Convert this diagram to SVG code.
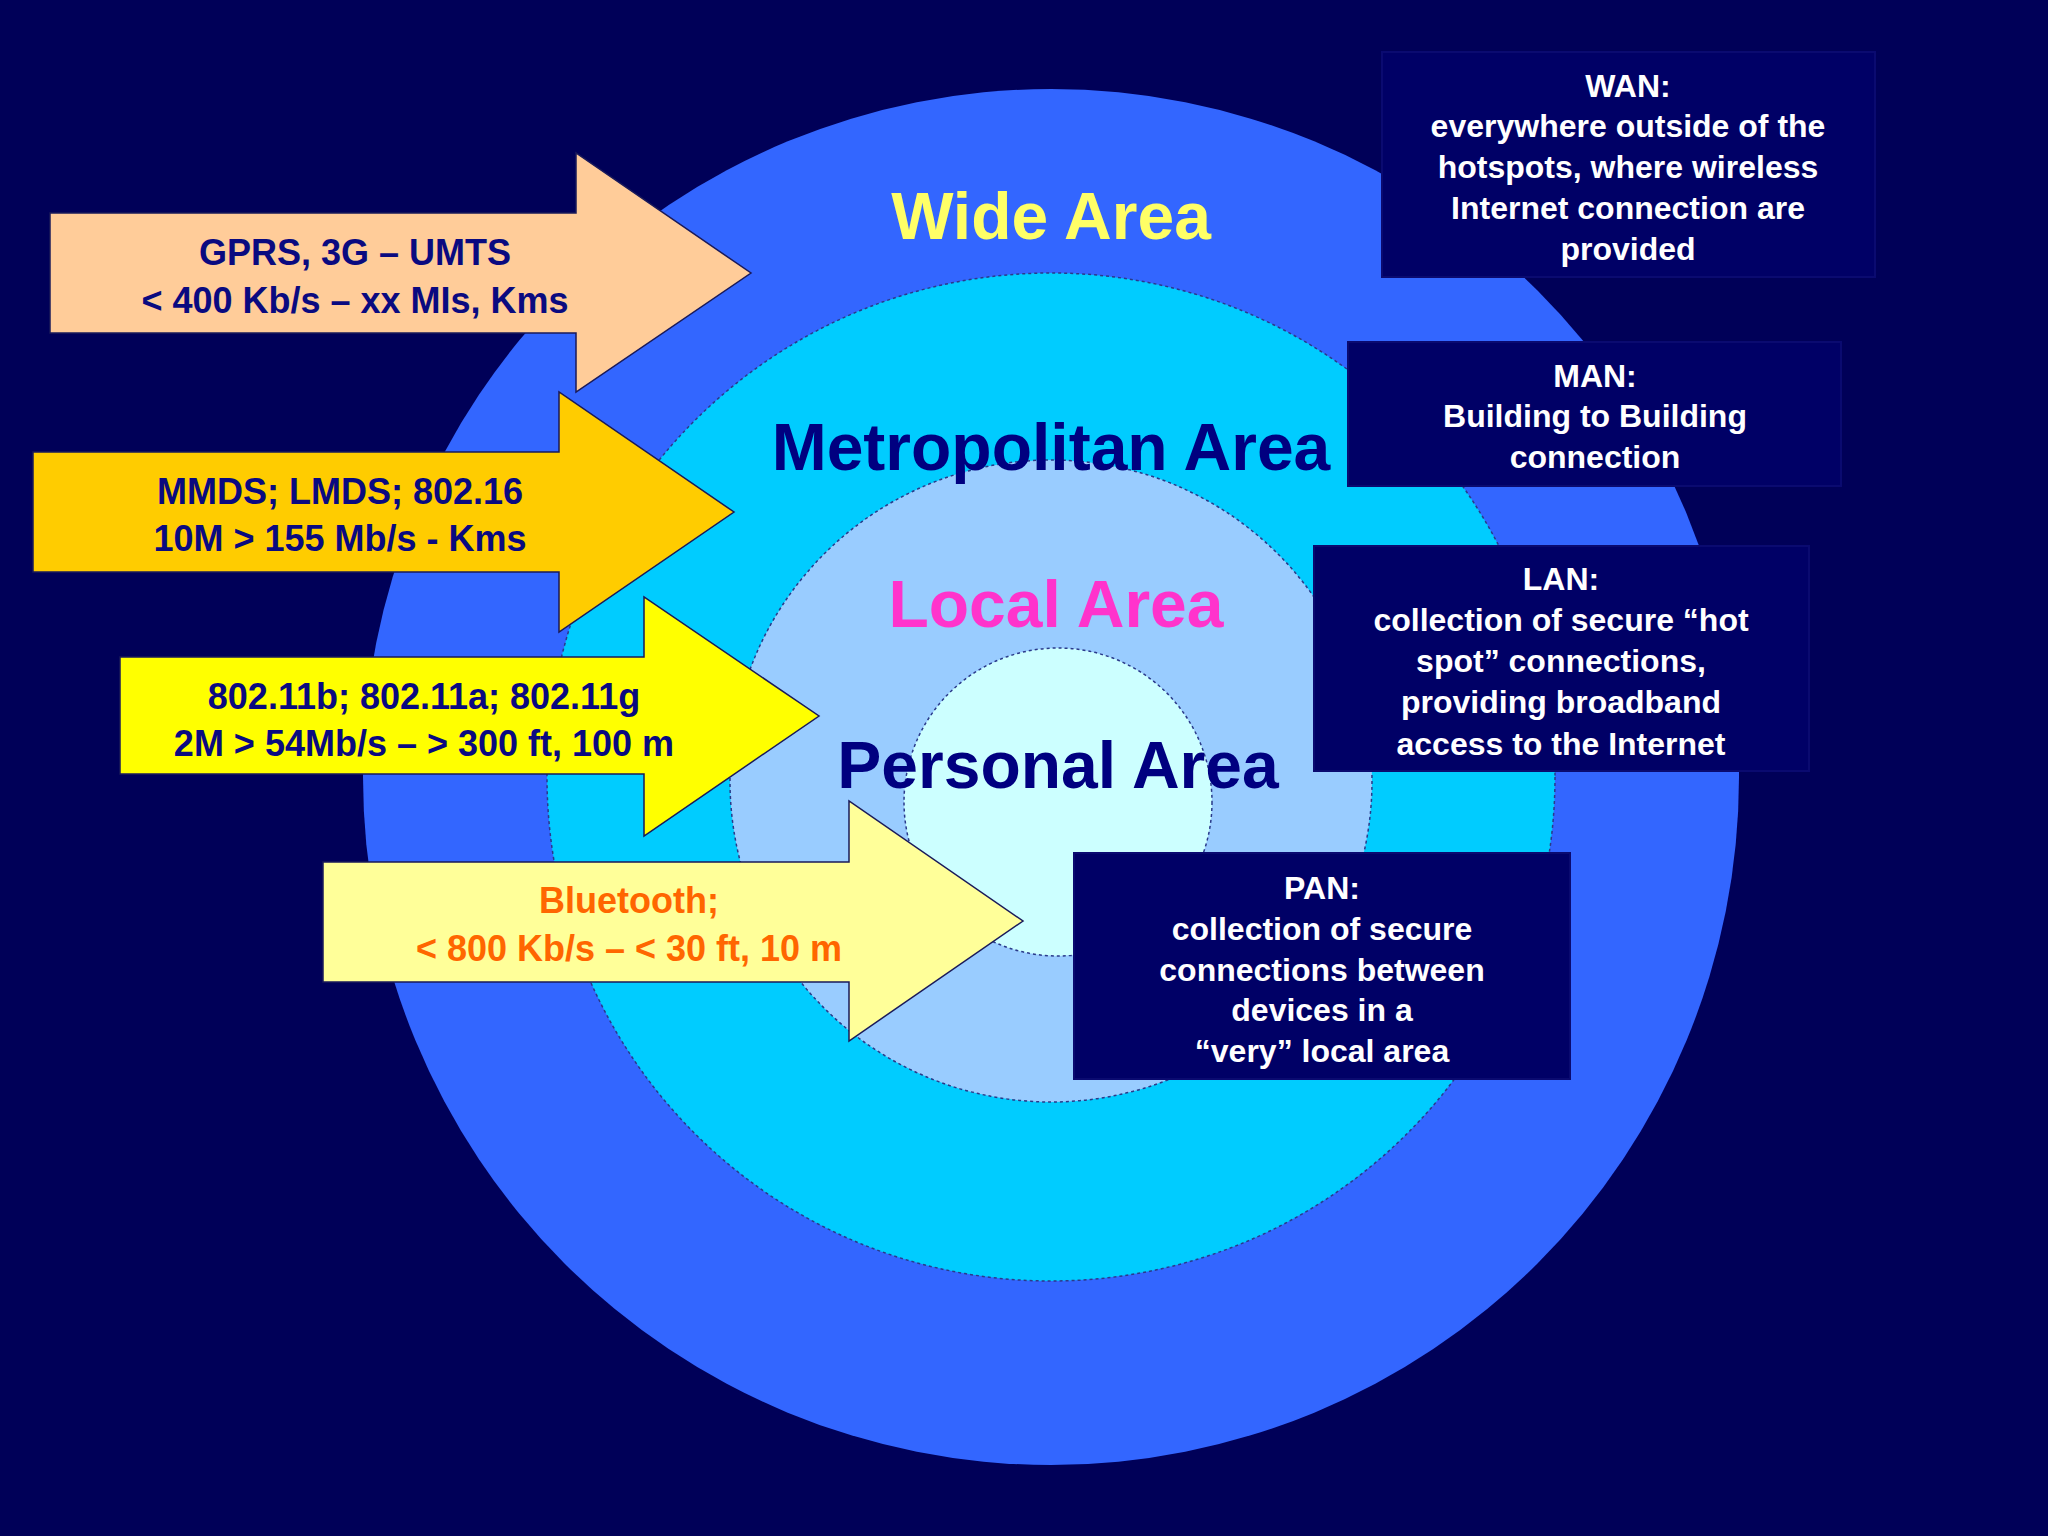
<svg xmlns="http://www.w3.org/2000/svg" width="2048" height="1536" viewBox="0 0 2048 1536">
<style>
.ar{stroke:#1a1a5a;stroke-width:1.5}
.at{font-family:"Liberation Sans",Arial,sans-serif;font-weight:bold;font-size:36px;text-anchor:middle;fill:#0a0a80}
.big{font-family:"Liberation Sans",Arial,sans-serif;font-weight:bold;font-size:66px;text-anchor:middle}
.box{fill:#000066;stroke:#0a0a70;stroke-width:2}
.bt{font-family:"Liberation Sans",Arial,sans-serif;font-weight:bold;font-size:32px;text-anchor:middle;fill:#ffffff}
.ring{stroke:#2a3a8a;stroke-width:1.5;stroke-dasharray:3 3}
</style>
<rect width="2048" height="1536" fill="#000058"/>
<g id="wide"><circle cx="1051" cy="777" r="688" fill="#3366ff"/></g>
<g id="metro"><circle cx="1051" cy="777" r="504" fill="#00ccff" class="ring"/></g>
<g id="local"><circle cx="1051" cy="781" r="321" fill="#99ccff" class="ring"/></g>
<g id="personal"><circle cx="1058" cy="802" r="154" fill="#ccffff" class="ring"/></g>
<g id="labels">
<text class="big" x="1051" y="239" fill="#ffff66">Wide Area</text>
<text class="big" x="1051" y="470" fill="#000080">Metropolitan Area</text>
<text class="big" x="1056" y="627" fill="#ff33cc">Local Area</text>
<text class="big" x="1058" y="788" fill="#000080">Personal Area</text>
</g>
<g id="connectors">
<g id="arrow1"><polygon class="ar" fill="#ffcc99" points="50,213 576,213 576,153 751,273 576,392 576,333 50,333"/>
<text class="at" x="355" y="265">GPRS, 3G – UMTS</text><text class="at" x="355" y="313">&lt; 400 Kb/s – xx MIs, Kms</text></g>
<g id="arrow2"><polygon class="ar" fill="#ffcc00" points="33,452 559,452 559,392 734,512 559,632 559,572 33,572"/>
<text class="at" x="340" y="504">MMDS; LMDS; 802.16</text><text class="at" x="340" y="551">10M &gt; 155 Mb/s - Kms</text></g>
<g id="arrow3"><polygon class="ar" fill="#ffff00" points="120,657 644,657 644,597 819,716 644,836 644,774 120,774"/>
<text class="at" x="424" y="709">802.11b; 802.11a; 802.11g</text><text class="at" x="424" y="756">2M &gt; 54Mb/s – &gt; 300 ft, 100 m</text></g>
<g id="arrow4"><polygon class="ar" fill="#ffff99" points="323,862 849,862 849,801 1023,921 849,1041 849,982 323,982"/>
<text class="at" x="629" y="913" fill="#ff6600" style="fill:#ff6600">Bluetooth;</text><text class="at" x="629" y="961" style="fill:#ff6600">&lt; 800 Kb/s – &lt; 30 ft, 10 m</text></g>
</g>
<g id="wan"><rect class="box" x="1382" y="52" width="493" height="225"/>
<text class="bt" x="1628" y="97">WAN:</text><text class="bt" x="1628" y="137">everywhere outside of the</text><text class="bt" x="1628" y="178">hotspots, where wireless</text><text class="bt" x="1628" y="219">Internet connection are</text><text class="bt" x="1628" y="260">provided</text></g>
<g id="man"><rect class="box" x="1348" y="342" width="493" height="144"/>
<text class="bt" x="1595" y="387">MAN:</text><text class="bt" x="1595" y="427">Building to Building</text><text class="bt" x="1595" y="468">connection</text></g>
<g id="lan"><rect class="box" x="1314" y="546" width="495" height="225"/>
<text class="bt" x="1561" y="590">LAN:</text><text class="bt" x="1561" y="631">collection of secure “hot</text><text class="bt" x="1561" y="672">spot” connections,</text><text class="bt" x="1561" y="713">providing broadband</text><text class="bt" x="1561" y="755">access to the Internet</text></g>
<g id="pan"><rect class="box" x="1074" y="853" width="496" height="226"/>
<text class="bt" x="1322" y="899">PAN:</text><text class="bt" x="1322" y="940">collection of secure</text><text class="bt" x="1322" y="981">connections between</text><text class="bt" x="1322" y="1021">devices in a</text><text class="bt" x="1322" y="1062">“very” local area</text></g>
</svg>
